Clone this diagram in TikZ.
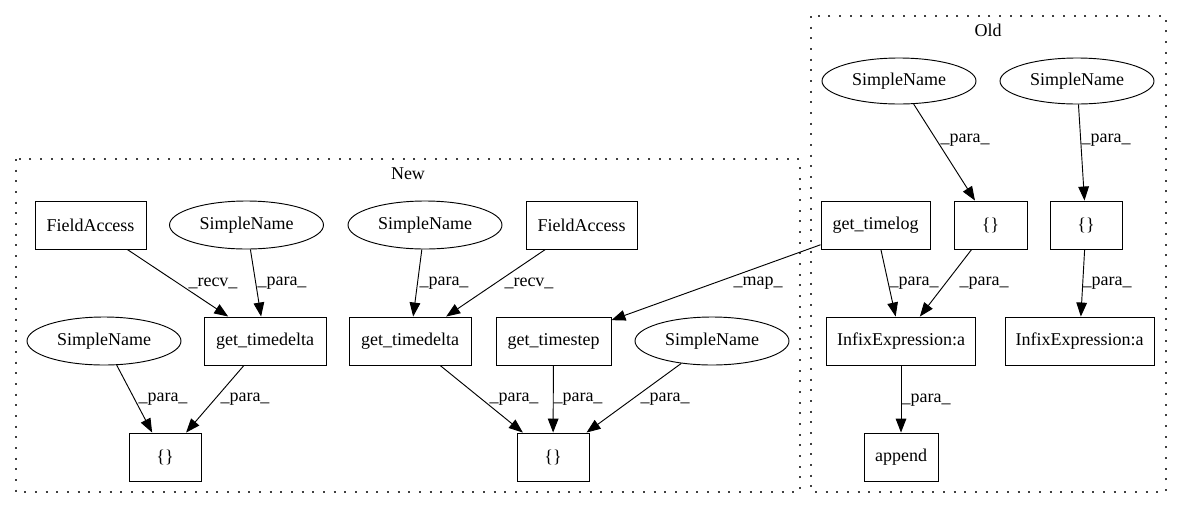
\documentclass[tikz,border=0pt]{standalone}
\usepackage{fontspec}
\setmainfont{Liberation Serif}
\usetikzlibrary{shapes.geometric,arrows.meta}
\begin{document}
\begin{tikzpicture}[x=0.75pt,y=-0.75pt,
 every node/.style={font=\fontsize{13.5}{16}\selectfont},
 box/.style={draw, line width=0.7pt, rectangle, minimum height=36pt, inner sep=0pt},
 oval/.style={draw, line width=0.7pt, ellipse, minimum width=115.5pt, minimum height=36pt, inner sep=0pt},
 arr/.style={draw, line width=0.7pt, -{Triangle[length=10.5pt,width=8pt]}},
 lbl/.style={inner sep=0pt},
 cluster/.style={draw=black!75, line width=1.3pt, dash pattern=on 1.4pt off 6.6pt}]
\useasboundingbox (0,0) rectangle (1181,508);
% clusters
\draw[cluster] (16,159) rectangle (800,492);
\node (newlbl) at (408,174) {New};
\draw[cluster] (811,16) rectangle (1166,492);
\node (oldlbl) at (988,30) {Old};
% New nodes
\node[box, minimum width=83.25pt] (fa1) at (90.5,225) {FieldAccess};
\node[oval] (sn1) at (246.5,225) {SimpleName};
\node[oval] (sn2) at (104,341) {SimpleName};
\node[box, minimum width=91.5pt] (gtd1) at (265,341) {get\_timedelta};
\node[box, minimum width=54pt] (br1) at (165,457) {\{\}};
\node[oval] (sn3) at (425,225) {SimpleName};
\node[box, minimum width=83.25pt] (fa2) at (581.5,225) {FieldAccess};
\node[box, minimum width=91.5pt] (gtd2) at (410,341) {get\_timedelta};
\node[box, minimum width=86.25pt] (gts) at (553.5,341) {get\_timestep};
\node[oval] (sn4) at (712,341) {SimpleName};
\node[box, minimum width=54pt] (br2) at (553,457) {\{\}};
% Old nodes
\node[oval, minimum height=34.5pt] (sn5) at (899,81) {SimpleName};
\node[oval, minimum height=34.5pt] (sn6) at (1077,81) {SimpleName};
\node[box, minimum width=81.75pt] (gtl) at (875.5,225) {get\_timelog};
\node[box, minimum width=54.75pt] (br3) at (990.5,225) {\{\}};
\node[box, minimum width=54pt] (br4) at (1086,225) {\{\}};
\node[box, minimum width=111.75pt] (ie1) at (901,341) {InfixExpression:a};
\node[box, minimum width=111.75pt] (ie2) at (1079.5,341) {InfixExpression:a};
\node[box, minimum width=55.5pt] (app) at (901,457) {append};
% edges
\draw[arr] (fa1) -- (gtd1); \node[lbl] (l1) at (213,283) {\_recv\_};
\draw[arr] (sn1) -- (gtd1); \node[lbl] (l2) at (282,283) {\_para\_};
\draw[arr] (sn2) -- (br1); \node[lbl] (l3) at (163,399) {\_para\_};
\draw[arr] (gtd1) -- (br1); \node[lbl] (l4) at (245,399) {\_para\_};
\draw[arr] (sn3) -- (gtd2); \node[lbl] (l5) at (444,283) {\_para\_};
\draw[arr] (fa2) -- (gtd2); \node[lbl] (l6) at (529,283) {\_recv\_};
\draw[arr] (gtl) -- (gts); \node[lbl] (l7) at (758,283) {\_map\_};
\draw[arr] (gtd2) -- (br2); \node[lbl] (l8) at (514,399) {\_para\_};
\draw[arr] (gts) -- (br2); \node[lbl] (l9) at (578,399) {\_para\_};
\draw[arr] (sn4) -- (br2); \node[lbl] (l10) at (665,399) {\_para\_};
\draw[arr] (sn5) -- (br3); \node[lbl] (l11) at (965,140) {\_para\_};
\draw[arr] (sn6) -- (br4); \node[lbl] (l12) at (1106,140) {\_para\_};
\draw[arr] (gtl) -- (ie1); \node[lbl] (l13) at (914,283) {\_para\_};
\draw[arr] (br3) -- (ie1); \node[lbl] (l14) at (984,283) {\_para\_};
\draw[arr] (br4) -- (ie2); \node[lbl] (l15) at (1107,283) {\_para\_};
\draw[arr] (ie1) -- (app); \node[lbl] (l16) at (926,400) {\_para\_};
\end{tikzpicture}
\end{document}
